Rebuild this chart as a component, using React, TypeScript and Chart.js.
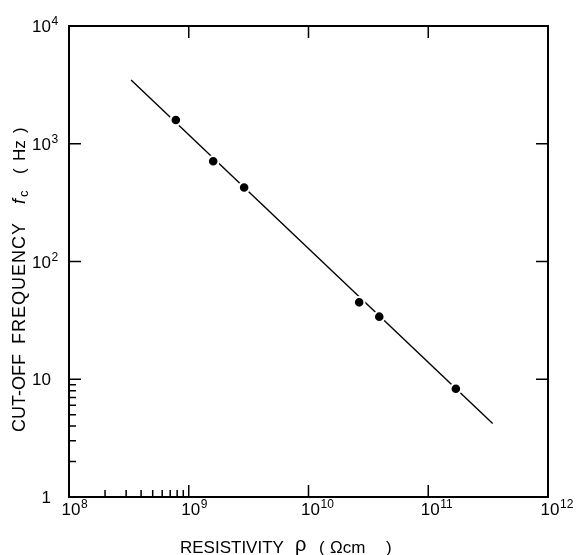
import React, { useEffect, useRef } from 'react';
import { Chart, registerables } from 'chart.js';

Chart.register(...registerables);

// Measured data points: resistivity (Ω cm) vs cut-off frequency (Hz)
const resistivity = [7.8e8, 1.6e9, 2.9e9, 2.65e10, 3.9e10, 1.7e11];
const cutoffFreq = [1590, 710, 425, 45, 34, 8.3];

// Fitted straight line (end points)
const fitResistivity = [3.3e8, 3.45e11];
const fitFreq = [3480, 4.2];

// Axis ticks
const xMajorTicks = [1e8, 1e9, 1e10, 1e11, 1e12];
const xTickExponents = ['8', '9', '10', '11', '12'];
const xMinorTicks = [2e8, 3e8, 4e8, 5e8, 6e8, 7e8, 8e8, 9e8];
const yMajorTicks = [1, 10, 100, 1000, 10000];
const yTickBases = ['1', '10', '10', '10', '10'];
const yTickExponents = ['', '', '2', '3', '4'];
const yMinorTicks = [2, 3, 4, 5, 6, 7, 8, 9];

const FONT = '"Liberation Sans", Arial, Helvetica, sans-serif';

const framePlugin = {
  id: 'framePlugin',
  afterDraw(chart: any) {
    const ctx = chart.ctx as CanvasRenderingContext2D;
    const xs = chart.scales.x;
    const ys = chart.scales.y;
    const { left, right, top, bottom } = chart.chartArea;
    ctx.save();
    ctx.strokeStyle = '#000';
    ctx.fillStyle = '#000';
    ctx.lineWidth = 2;
    ctx.strokeRect(left, top, right - left, bottom - top);

    ctx.lineWidth = 1.5;
    ctx.beginPath();
    xMajorTicks.forEach((v) => {
      const px = xs.getPixelForValue(v);
      if (px <= left + 1 || px >= right - 1) return;
      ctx.moveTo(px, bottom);
      ctx.lineTo(px, bottom - 12);
      ctx.moveTo(px, top);
      ctx.lineTo(px, top + 12);
    });
    xMinorTicks.forEach((v) => {
      const px = xs.getPixelForValue(v);
      ctx.moveTo(px, bottom);
      ctx.lineTo(px, bottom - 7);
    });
    yMajorTicks.forEach((v) => {
      const py = ys.getPixelForValue(v);
      if (py <= top + 1 || py >= bottom - 1) return;
      ctx.moveTo(left, py);
      ctx.lineTo(left + 12, py);
      ctx.moveTo(right, py);
      ctx.lineTo(right - 12, py);
    });
    yMinorTicks.forEach((v) => {
      const py = ys.getPixelForValue(v);
      ctx.moveTo(left, py);
      ctx.lineTo(left + 7, py);
    });
    ctx.stroke();

    // X tick labels
    ctx.textBaseline = 'alphabetic';
    xMajorTicks.forEach((v, i) => {
      const px = xs.getPixelForValue(v);
      ctx.font = `17px ${FONT}`;
      const w = ctx.measureText('10').width;
      ctx.textAlign = 'left';
      ctx.fillText('10', px - w / 2 + 2, bottom + 18);
      ctx.font = `12px ${FONT}`;
      ctx.fillText(xTickExponents[i], px + w / 2 + 2.5, bottom + 11);
    });

    // Y tick labels
    yMajorTicks.forEach((v, i) => {
      const py = ys.getPixelForValue(v);
      ctx.font = `17px ${FONT}`;
      ctx.textAlign = 'right';
      const baseRight = 51;
      ctx.fillText(yTickBases[i], baseRight, py + 6);
      if (yTickExponents[i]) {
        ctx.font = `12px ${FONT}`;
        ctx.textAlign = 'left';
        ctx.fillText(yTickExponents[i], baseRight + 0.5, py - 1);
      }
    });

    // X axis title
    ctx.textAlign = 'left';
    ctx.font = `17px ${FONT}`;
    ctx.fillText('RESISTIVITY', 180, 553);
    ctx.font = `20px ${FONT}`;
    ctx.fillText('ρ', 295, 551);
    ctx.font = `17px ${FONT}`;
    ctx.fillText('(', 319, 553);
    ctx.fillText('Ωcm', 330, 553);
    ctx.fillText(')', 386, 553);

    // Y axis title (rotated)
    ctx.save();
    ctx.translate(19, 0);
    ctx.rotate(-Math.PI / 2);
    const base = 6;
    ctx.font = `18px ${FONT}`;
    ctx.fillText('CUT-OFF', -432, base);
    (ctx as any).letterSpacing = '1px';
    ctx.fillText('FREQUENCY', -344, base);
    (ctx as any).letterSpacing = '0px';
    ctx.font = `italic 18px ${FONT}`;
    ctx.fillText('f', -204, base);
    ctx.font = `13px ${FONT}`;
    ctx.fillText('c', -197, base + 3);
    ctx.font = `17px ${FONT}`;
    ctx.fillText('(', -174, base);
    ctx.fillText('Hz', -161, base);
    ctx.fillText(')', -133, base);
    ctx.restore();

    ctx.restore();
  },
};

export default function App() {
  const canvasRef = useRef<HTMLCanvasElement | null>(null);

  useEffect(() => {
    const canvas = canvasRef.current;
    if (!canvas) return;
    const chart = new Chart(canvas, {
      type: 'scatter',
      data: {
        datasets: [
          {
            label: 'measured',
            data: resistivity.map((x, i) => ({ x, y: cutoffFreq[i] })),
            showLine: false,
            pointRadius: 5.3,
            pointHoverRadius: 5.3,
            pointBackgroundColor: '#000',
            pointBorderColor: '#fff',
            pointBorderWidth: 2,
            order: 0,
          },
          {
            label: 'fit',
            data: fitResistivity.map((x, i) => ({ x, y: fitFreq[i] })),
            showLine: true,
            borderColor: '#000',
            borderWidth: 1.4,
            pointRadius: 0,
            fill: false,
            order: 1,
          },
        ],
      },
      options: {
        responsive: false,
        animation: false,
        events: [],
        layout: { padding: { left: 69, top: 26, right: 28, bottom: 58 } },
        plugins: {
          legend: { display: false },
          tooltip: { enabled: false },
          title: { display: false },
        },
        scales: {
          x: {
            type: 'logarithmic',
            min: 1e8,
            max: 1e12,
            bounds: 'data',
            grid: { display: false, drawTicks: false, tickLength: 0 },
            border: { display: false },
            ticks: { display: false },
            title: { display: false },
          },
          y: {
            type: 'logarithmic',
            min: 1,
            max: 1e4,
            bounds: 'data',
            grid: { display: false, drawTicks: false, tickLength: 0 },
            border: { display: false },
            ticks: { display: false },
            title: { display: false },
          },
        },
      },
      plugins: [framePlugin],
    });
    return () => chart.destroy();
  }, []);

  return (
    <div style={{ position: 'absolute', left: 0, top: 0, width: 576, height: 555, background: '#fff' }}>
      <canvas ref={canvasRef} width={576} height={555} style={{ display: 'block' }} />
    </div>
  );
}
